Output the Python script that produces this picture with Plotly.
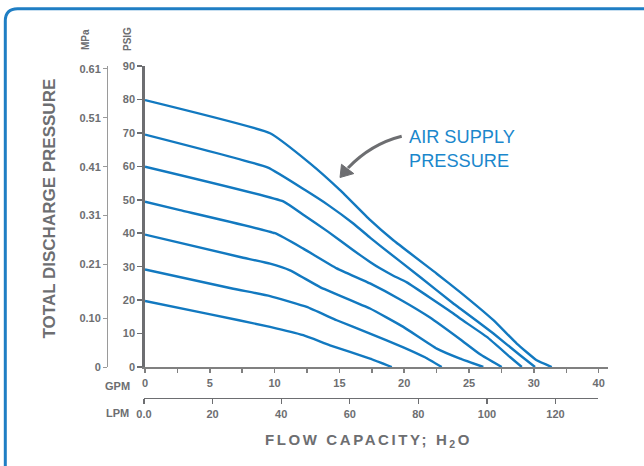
import plotly.graph_objects as go

# ---------------- data ----------------
# x values are positions on the GPM axis (0..35, last tick labelled "40")
gpm_80 = [0, 9.65, 12.73, 15.05, 17.36, 19.16, 22.51, 24.31, 26.88, 28.68, 30.22, 31.38]
psi_80 = [79.8, 69.9, 60.9, 52.9, 44.0, 37.9, 27.9, 22.4, 14.0, 7.0, 2.0, 0]

gpm_70 = [0, 9.49, 12.35, 14.14, 16.07, 17.36, 18.13, 21.22, 23.79, 24.31, 26.88, 28.94, 30.09]
psi_70 = [69.5, 59.6, 52.9, 48.4, 42.9, 38.7, 36.3, 26.9, 19.0, 17.5, 10.0, 3.5, 0]

gpm_60 = [0, 10.67, 12.21, 14.14, 16.07, 17.36, 18.13, 19.16, 20.2, 23.79, 24.31, 26.37, 28.16, 29.07]
psi_60 = [59.9, 49.5, 45.5, 40.4, 34.9, 31.4, 29.5, 27.3, 25.3, 16.0, 14.5, 9.0, 3.0, 0]

gpm_50 = [0, 2.7, 10.03, 12.21, 14.79, 17.36, 19.68, 21.99, 24.31, 25.85, 27.52]
psi_50 = [49.4, 46.9, 40.0, 35.4, 29.5, 25.0, 20.2, 14.8, 8.3, 3.8, 0]

gpm_40 = [0, 7.33, 9.65, 11.19, 13.5, 17.36, 19.93, 22.51, 24.31, 26.1]
psi_40 = [39.6, 32.9, 30.9, 28.9, 23.9, 17.5, 12.0, 5.5, 2.5, 0]

gpm_30 = [0, 6.81, 9.65, 12.48, 14.79, 17.36, 19.93, 21.6, 22.89]
psi_30 = [29.15, 23.4, 21.2, 17.96, 13.98, 9.99, 5.9, 2.9, 0]

gpm_20 = [0, 4.86, 9.65, 12.21, 14.27, 17.36, 19.04]
psi_20 = [19.75, 15.9, 12.0, 9.5, 6.5, 2.5, 0]

series = [(gpm_80, psi_80), (gpm_70, psi_70), (gpm_60, psi_60), (gpm_50, psi_50),
          (gpm_40, psi_40), (gpm_30, psi_30), (gpm_20, psi_20)]

gpm_tickvals = [0, 5, 10, 15, 20, 25, 30, 35]
gpm_ticktext = ["0", "5", "10", "15", "20", "25", "30", "40"]
psi_ticks = [0, 10, 20, 30, 40, 50, 60, 70, 80, 90]
mpa_tickvals = [0, 0.10, 0.21, 0.31, 0.41, 0.51, 0.61]
mpa_ticktext = ["0", "0.10", "0.21", "0.31", "0.41", "0.51", "0.61"]
lpm_tickvals = [0, 20, 40, 60, 80, 100, 120]
lpm_ticktext = ["0.0", "20", "40", "60", "80", "100", "120"]

# ---------------- layout geometry (screen pixels) ----------------
W, H = 644, 466
X0, X1 = 107, 608      # plot area on screen
Y0, Y1 = 66, 398
ML, MT = X0, Y0
PW, PH = X1 - X0, Y1 - Y0
MR, MB = W - ML - PW, H - MT - PH


def P(x, y):
    """screen pixel -> paper coordinates"""
    return (x - X0) / PW, (Y1 - y) / PH


GREY = "#6d6e71"
BLUE = "#1279c0"
FONT = "Liberation Sans, Arial, sans-serif"

fig = go.Figure()
for gx, py in series:
    fig.add_trace(go.Scatter(x=gx, y=py, mode="lines",
                             line=dict(color=BLUE, width=2.4, shape="spline", smoothing=0.35),
                             showlegend=False, hoverinfo="skip"))

# invisible helpers so the MPa and LPM axes get drawn
fig.add_trace(go.Scatter(x=[0], y=mpa_tickvals[:1], yaxis="y2", mode="markers",
                         marker=dict(opacity=0), showlegend=False, hoverinfo="skip"))
fig.add_trace(go.Scatter(x=lpm_tickvals[:1], y=[0], xaxis="x2", yaxis="y",
                         mode="markers", marker=dict(opacity=0),
                         showlegend=False, hoverinfo="skip"))

tickfont = dict(family=FONT, size=11, color=GREY, weight="bold")

fig.update_layout(
    width=W, height=H,
    margin=dict(l=ML, r=MR, t=MT, b=MB),
    paper_bgcolor="white", plot_bgcolor="rgba(0,0,0,0)",
    showlegend=False, hovermode=False,
    xaxis=dict(domain=[P(145, 0)[0], 1], anchor="y", range=[0, 35.72],
               tickmode="array", tickvals=gpm_tickvals, ticktext=gpm_ticktext,
               showline=True, linecolor="#808080", linewidth=2.4,
               ticks="outside", ticklen=4, tickwidth=1.5, tickcolor="#808080",
               minor=dict(ticks="outside", ticklen=4, tickwidth=1.5, tickcolor="#808080",
                          tick0=0, dtick=2.5),
               showgrid=False, zeroline=False, tickfont=tickfont, fixedrange=True),
    yaxis=dict(domain=[P(0, 367)[1], 1], anchor="x", range=[0, 90],
               tickmode="array", tickvals=psi_ticks,
               showline=True, linecolor=GREY, linewidth=2.7,
               ticks="outside", ticklen=5, tickwidth=1.5, tickcolor=GREY,
               showgrid=False, zeroline=False, tickfont=tickfont, fixedrange=True),
    yaxis2=dict(overlaying="y", anchor="free", position=0, side="left",
                range=[0, 0.616], tickmode="array",
                tickvals=mpa_tickvals, ticktext=mpa_ticktext,
                showline=True, linecolor="#9a9a9a", linewidth=1,
                ticks="outside", ticklen=4, tickwidth=1, tickcolor="#9a9a9a",
                showgrid=False, zeroline=False, tickfont=tickfont, fixedrange=True),
    xaxis2=dict(domain=[P(144, 0)[0], P(597.7, 0)[0]], anchor="free", position=0,
                side="bottom", range=[0, 132.3], tickmode="array",
                tickvals=lpm_tickvals, ticktext=lpm_ticktext,
                showline=True, linecolor=GREY, linewidth=1.3,
                ticks="outside", ticklen=5, tickwidth=1.3, tickcolor=GREY,
                showgrid=False, zeroline=False, tickfont=tickfont, fixedrange=True),
)

annots = []


def add_text(text, x, y, size, color=GREY, bold=True, angle=0, xanchor="center",
             yanchor="middle", align="center"):
    px_, py_ = P(x, y)
    annots.append(dict(text=text, x=px_, y=py_, xref="paper", yref="paper",
                       showarrow=False, textangle=angle, xanchor=xanchor,
                       yanchor=yanchor, align=align,
                       font=dict(family=FONT, size=size, color=color,
                                 weight="bold" if bold else "normal")))


add_text("MPa", 86, 40, 10, angle=-90)
add_text("PSIG", 127.5, 39.5, 10, angle=-90)
add_text("TOTAL DISCHARGE PRESSURE", 49, 208.5, 17, angle=-90)
add_text("GPM", 117.5, 386, 11)
add_text("LPM", 117.5, 413, 11)
add_text('<span style="letter-spacing:2.6px">FLOW CAPACITY; H<sub>2</sub>O</span>',
         368, 440, 15)
add_text("AIR SUPPLY<br>PRESSURE", 407, 149, 18.2, color="#1b87cc", bold=False,
         xanchor="left", align="left")
fig.update_layout(annotations=annots)

# border (rounded corner, running off the right and bottom edges)
b0 = P(5.3, 480); b1 = P(5.3, 21); bc = P(5.3, 8.7); b2 = P(17.5, 8.7); b3 = P(660, 8.7)
border = (f"M {b0[0]},{b0[1]} L {b1[0]},{b1[1]} Q {bc[0]},{bc[1]} {b2[0]},{b2[1]} "
          f"L {b3[0]},{b3[1]}")

# curved grey arrow
a0 = P(401.7, 136.3); a1 = P(371.1, 144.0); a2 = P(348.0, 168.0)
arrow = f"M {a0[0]},{a0[1]} Q {a1[0]},{a1[1]} {a2[0]},{a2[1]}"
t0 = P(340.0, 177.5); t1 = P(341.5, 164.3); t2 = P(353.8, 173.6)
head = f"M {t0[0]},{t0[1]} L {t1[0]},{t1[1]} L {t2[0]},{t2[1]} Z"

fig.update_layout(shapes=[
    dict(type="path", path=border, xref="paper", yref="paper",
         line=dict(color="#1f7ec4", width=3)),
    dict(type="path", path=arrow, xref="paper", yref="paper",
         line=dict(color=GREY, width=3)),
    dict(type="path", path=head, xref="paper", yref="paper",
         line=dict(color=GREY, width=1), fillcolor=GREY),
])

fig.write_html("out.html",
               config={"displayModeBar": False, "staticPlot": True},
               post_script="document.body.style.margin='0';"
                           "document.body.style.overflow='hidden';")
